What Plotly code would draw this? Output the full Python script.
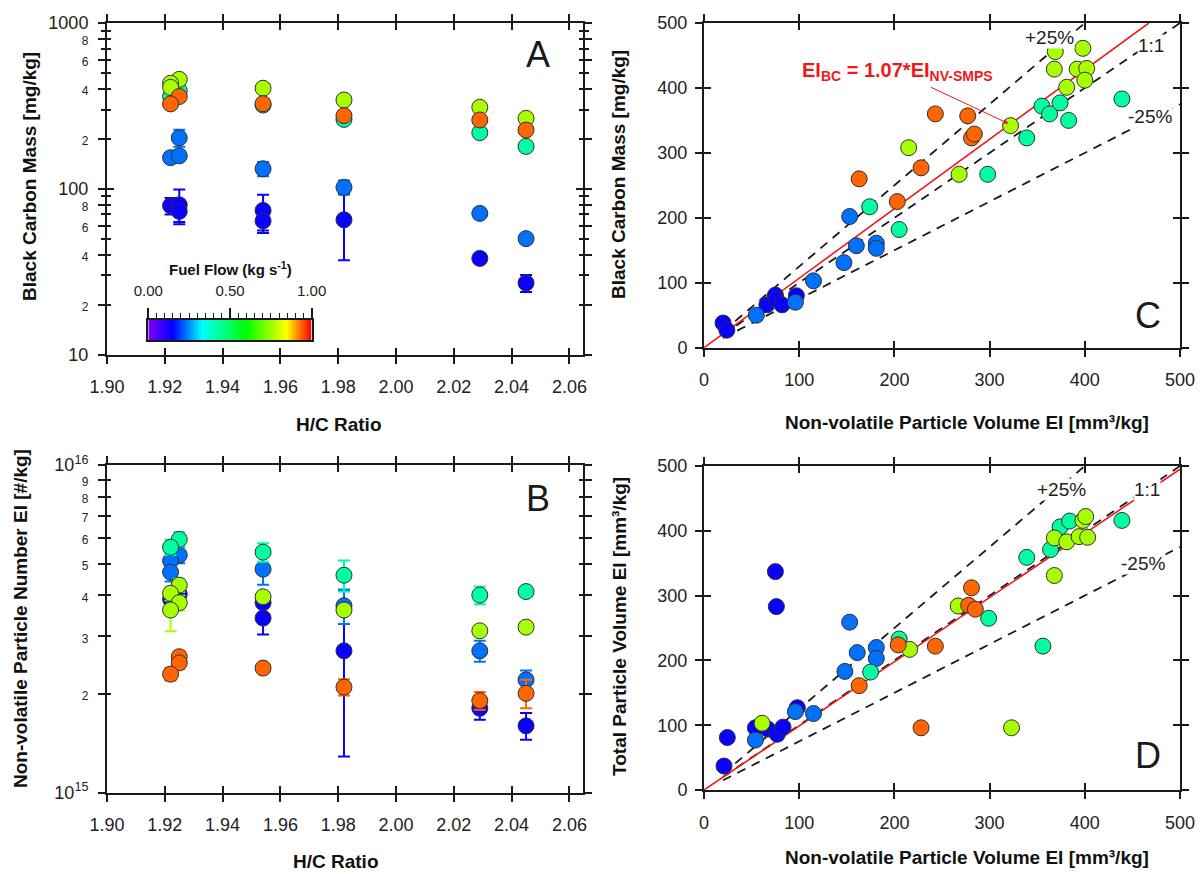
import plotly.graph_objects as go
from plotly.colors import sample_colorscale

W, H = 1200, 874
FONT = "Liberation Sans, Arial, Helvetica, sans-serif"
INK = "#1a1a1a"
TICK_INK = "#222222"

# Fuel-flow colour scale (kg s^-1), rainbow from purple to red
RAINBOW = [[0.0, "#8000ff"], [0.15, "#0000ff"], [0.33, "#00ffff"],
           [0.60, "#00ff00"], [0.85, "#ffff00"], [1.0, "#ff0000"]]

# ---------------- Panel A: black carbon mass EI vs H/C ratio ----------------
a_hc = [1.922, 1.925, 1.925, 1.954, 1.954, 1.982, 2.029, 2.045,
        1.925, 1.922, 1.925, 1.954, 1.982, 2.029, 2.045,
        1.925, 1.922, 1.954, 1.982, 2.029, 2.045,
        1.925, 1.922, 1.922, 1.954, 1.982, 2.029, 2.045,
        1.925, 1.922, 1.954, 1.982, 2.029, 2.045]
a_bc = [79, 80, 73, 74, 64, 65, 38, 27,
        203, 154, 158, 132, 102, 71, 50,
        390, 360, 320, 262, 218, 180,
        457, 433, 409, 404, 343, 310, 266,
        360, 325, 326, 276, 260, 226]
a_bc_err = [9, 19, 10, 18, 10, 28, 2.5, 3.2,
            24, 10, 6, 13, 10, 2, 1.5,
            0, 0, 0, 0, 0, 0,
            0, 0, 0, 0, 0, 0, 0,
            0, 0, 0, 0, 0, 0]
a_fuel = [0.14] * 8 + [0.23] * 7 + [0.43] * 6 + [0.765] * 7 + [0.94] * 6

# ---------------- Panel B: nvPM number EI vs H/C ratio ----------------
b_hc = [1.925, 1.922, 1.954, 1.954, 1.982, 2.029, 2.045,
        1.925, 1.922, 1.922, 1.954, 1.982, 2.029, 2.045,
        1.925, 1.922, 1.954, 1.982, 2.029, 2.045,
        1.925, 1.922, 1.925, 1.922, 1.954, 1.982, 2.029, 2.045,
        1.925, 1.925, 1.922, 1.954, 1.982, 2.029, 2.045]
b_num = [4.04e15, 3.89e15, 3.80e15, 3.41e15, 2.71e15, 1.81e15, 1.60e15,
         5.31e15, 5.10e15, 4.71e15, 4.81e15, 3.72e15, 2.71e15, 2.21e15,
         5.93e15, 5.61e15, 5.42e15, 4.61e15, 4.01e15, 4.11e15,
         4.30e15, 4.06e15, 3.80e15, 3.61e15, 3.96e15, 3.61e15, 3.12e15, 3.20e15,
         2.60e15, 2.49e15, 2.30e15, 2.40e15, 2.10e15, 1.91e15, 2.01e15]
b_num_err = [0.25e15, 0.30e15, 0.30e15, 0.37e15, 1.42e15, 0.14e15, 0.15e15,
             0.30e15, 0.30e15, 0.30e15, 0.50e15, 0.45e15, 0.20e15, 0.15e15,
             0.30e15, 0.30e15, 0.35e15, 0.50e15, 0.25e15, 0.10e15,
             0.20e15, 0.20e15, 0.20e15, 0.50e15, 0.10e15, 0.10e15, 0.05e15, 0.05e15,
             0.10e15, 0.10e15, 0.10e15, 0.05e15, 0.12e15, 0.12e15, 0.20e15]
b_fuel = [0.14] * 7 + [0.23] * 7 + [0.43] * 6 + [0.765] * 8 + [0.94] * 7

# ---------------- Panel C: BC mass EI vs non-volatile volume EI ----------------
c_nv_vol = [20, 24, 66, 75, 76, 82, 97,
            55, 96, 115, 147, 153, 160, 181, 181,
            174, 205, 298, 339, 355, 363, 374, 383, 439,
            215, 268, 322, 369, 368, 398, 392, 402, 400, 381,
            163, 203, 228, 243, 277, 281, 284]
c_bc = [38, 27, 66, 81, 74, 66, 80,
        50, 70, 103, 131, 202, 157, 161, 153,
        217, 182, 267, 323, 372, 360, 377, 350, 383,
        308, 267, 342, 456, 429, 461, 429, 430, 412, 401,
        260, 225, 277, 360, 357, 323, 329]
c_fuel = [0.14] * 7 + [0.23] * 8 + [0.43] * 9 + [0.765] * 10 + [0.94] * 7

# ---------------- Panel D: total volume EI vs non-volatile volume EI ----------------
d_nv_vol = [21, 24.5, 75, 76, 54, 67, 77, 83, 98,
            54, 96, 115, 148, 153, 161, 181, 181,
            175, 205, 299, 356, 339, 364, 374, 384, 439,
            61, 216, 267, 323, 368, 368, 381, 394, 403, 398, 401,
            163, 204, 243, 228, 281, 278, 285]
d_tot_vol = [37, 81, 337, 283, 96, 94, 86, 97, 127,
             77, 121, 118, 183, 259, 212, 220, 203,
             182, 233, 265, 222, 359, 371, 406, 415, 416,
             103, 217, 284, 96, 331, 389, 383, 391, 390, 416, 422,
             161, 224, 222, 96, 312, 285, 279]
d_fuel = [0.14] * 9 + [0.23] * 8 + [0.43] * 9 + [0.765] * 11 + [0.94] * 7

# Reference lines (+25 %, 1:1, -25 %) and fitted slopes
ref_slopes = [1.25, 1.0, 0.75]
ref_labels = ["+25%", "1:1", "-25%"]
fit_slope_c = 1.07
fit_slope_d = 0.99

hc_ticks = [1.90, 1.92, 1.94, 1.96, 1.98, 2.00, 2.02, 2.04, 2.06]
vol_ticks = [0, 100, 200, 300, 400, 500]
cb_ticks = [0.0, 0.5, 1.0]

# ---------------- page geometry (pixels) ----------------
def px_x(x0, x1):
    return [x0 / W, x1 / W]


def px_y(top, bottom):
    return [1 - bottom / H, 1 - top / H]


DOM_AB_X = px_x(107, 583)
DOM_CD_X = px_x(704, 1180)
DOM_A_Y = px_y(23, 354.5)
DOM_B_Y = px_y(465, 792.7)
DOM_C_Y = px_y(23, 347.7)
DOM_D_Y = px_y(466, 790)
DOM_CB_X = px_x(148.3, 311.7)
DOM_CB_Y = px_y(320, 340)

fig = go.Figure()


def add_fuel_groups(x, y, fuel, xa, ya, err=None):
    for f in sorted(set(fuel)):
        idx = [i for i, v in enumerate(fuel) if v == f]
        colour = sample_colorscale(RAINBOW, [f])[0]
        extra = {}
        if err is not None:
            extra["error_y"] = dict(type="data", array=[err[i] for i in idx],
                                    color=colour, thickness=2, width=6)
        fig.add_trace(go.Scatter(
            x=[x[i] for i in idx], y=[y[i] for i in idx], mode="markers",
            xaxis=xa, yaxis=ya, showlegend=False,
            marker=dict(size=16, color=[f] * len(idx), coloraxis="coloraxis",
                        line=dict(color="#303030", width=1)),
            **extra))


def add_reference_lines(xa, ya, fit):
    ax_max = vol_ticks[-1]
    start = 20
    for s in ref_slopes:
        x_end = min(ax_max, ax_max / s)
        fig.add_trace(go.Scatter(
            x=[start, x_end], y=[s * start, s * x_end], mode="lines",
            line=dict(color=INK, width=1.8, dash="9px,7px"),
            xaxis=xa, yaxis=ya, showlegend=False, hoverinfo="skip"))
    x_end = min(ax_max, ax_max / fit)
    fig.add_trace(go.Scatter(
        x=[0, x_end], y=[0, fit * x_end], mode="lines",
        line=dict(color="#ee1a1a", width=1.6),
        xaxis=xa, yaxis=ya, showlegend=False, hoverinfo="skip"))


# Scatter panels
add_fuel_groups(a_hc, a_bc, a_fuel, "x", "y", a_bc_err)
add_fuel_groups(b_hc, b_num, b_fuel, "x2", "y2", b_num_err)
add_reference_lines("x3", "y3", fit_slope_c)
add_fuel_groups(c_nv_vol, c_bc, c_fuel, "x3", "y3")
add_reference_lines("x4", "y4", fit_slope_d)
add_fuel_groups(d_nv_vol, d_tot_vol, d_fuel, "x4", "y4")

# Colour bar drawn as a gradient strip on its own small axes
n_cb = 256
cb_levels = [i / (n_cb - 1) for i in range(n_cb)]
cb_edges = [i / n_cb for i in range(n_cb + 1)]
fig.add_trace(go.Heatmap(z=[cb_levels], x=cb_edges, y=[0, 1],
                         coloraxis="coloraxis", xaxis="x5", yaxis="y5",
                         hoverinfo="skip"))

# Empty traces so the inner-tick overlay subplots exist
for k in (6, 7, 8, 9):
    fig.add_trace(go.Scatter(x=[None], y=[None], xaxis=f"x{k}", yaxis=f"y{k}",
                             showlegend=False, hoverinfo="skip"))


def main_axis(domain, anchor, **kw):
    d = dict(domain=domain, anchor=anchor, automargin=False, showline=True,
             linecolor=INK, linewidth=2,
             mirror="ticks", ticks="outside", ticklen=7, tickwidth=2, tickcolor=INK,
             showgrid=False, zeroline=False,
             tickfont=dict(family=FONT, size=18, color=TICK_INK))
    d.update(kw)
    return d


def inner_axis(over, anchor, **kw):
    d = dict(overlaying=over, anchor=anchor, automargin=False, showline=False,
             mirror="ticks", ticks="inside", ticklen=7, tickwidth=2, tickcolor=INK,
             showgrid=False, zeroline=False, showticklabels=False)
    d.update(kw)
    return d


def small(t):
    return f"<span style='font-size:12px'>{t}</span>"


# log tick layouts
bc_major = [10, 100, 1000]
bc_labelled = [10, 20, 40, 60, 80, 100, 200, 400, 600, 800, 1000]
bc_text = ["10", small("2"), small("4"), small("6"), small("8"),
           "100", small("2"), small("4"), small("6"), small("8"), "1000"]
bc_unlabelled = [30, 50, 70, 90, 300, 500, 700, 900]
bc_minor_all = [20, 30, 40, 50, 60, 70, 80, 90, 200, 300, 400, 500, 600, 700, 800, 900]

num_major = [1e15, 1e16]
num_labelled = [1e15, 2e15, 3e15, 4e15, 5e15, 6e15, 7e15, 8e15, 9e15, 1e16]
num_text = ["10<sup>15</sup>"] + [small(str(k)) for k in range(2, 10)] + ["10<sup>16</sup>"]
num_minor_all = [k * 1e15 for k in range(2, 10)]

hc_text = [f"{v:.2f}" for v in hc_ticks]
hc_range = [1.90, 1.90 + (583 - 107) / 2890]

minor_out = dict(ticks="outside", ticklen=4, tickwidth=1.5, tickcolor=INK)
minor_in = dict(ticks="inside", ticklen=4, tickwidth=1.5, tickcolor=INK)

fig.update_layout(
    template="none",
    width=W, height=H, margin=dict(l=0, r=0, t=0, b=0, pad=0, autoexpand=False),
    paper_bgcolor="white", plot_bgcolor="rgba(0,0,0,0)",
    font=dict(family=FONT, color=INK),
    coloraxis=dict(colorscale=RAINBOW, cmin=0, cmax=1, showscale=False),
    # Panel A
    xaxis=main_axis(DOM_AB_X, "y", range=hc_range, tickmode="array",
                    tickvals=hc_ticks, ticktext=hc_text, ticklabelstandoff=8),
    yaxis=main_axis(DOM_A_Y, "x", type="log", range=[1, 3], tickmode="array",
                    tickvals=bc_labelled, ticktext=bc_text, ticklabelstandoff=6,
                    minor=dict(tickvals=bc_unlabelled, **minor_out)),
    # Panel B
    xaxis2=main_axis(DOM_AB_X, "y2", range=hc_range, tickmode="array",
                     tickvals=hc_ticks, ticktext=hc_text, ticklabelstandoff=8),
    yaxis2=main_axis(DOM_B_Y, "x2", type="log", range=[15, 16], tickmode="array",
                     tickvals=num_labelled, ticktext=num_text, ticklabelstandoff=6),
    # Panel C
    xaxis3=main_axis(DOM_CD_X, "y3", range=[0, 500], tickmode="array",
                     tickvals=vol_ticks, ticklabelstandoff=8),
    yaxis3=main_axis(DOM_C_Y, "x3", range=[0, 500], tickmode="array",
                     tickvals=vol_ticks, ticklabelstandoff=4),
    # Panel D
    xaxis4=main_axis(DOM_CD_X, "y4", range=[0, 500], tickmode="array",
                     tickvals=vol_ticks, ticklabelstandoff=8),
    yaxis4=main_axis(DOM_D_Y, "x4", range=[0, 500], tickmode="array",
                     tickvals=vol_ticks, ticklabelstandoff=4),
    # Colour bar strip
    xaxis5=dict(domain=DOM_CB_X, anchor="y5", range=[0, 1], side="top", automargin=False,
                showline=True, linecolor=INK, linewidth=2, mirror=True,
                ticks="outside", ticklen=10, tickwidth=1.5, tickcolor=INK,
                tickmode="array", tickvals=cb_ticks,
                ticktext=[f"{v:.2f}" for v in cb_ticks], ticklabelstandoff=6,
                tickfont=dict(family=FONT, size=15, color=TICK_INK),
                minor=dict(dtick=0.05, tick0=0, ticks="outside", ticklen=5,
                           tickwidth=1.2, tickcolor=INK),
                showgrid=False, zeroline=False, fixedrange=True),
    yaxis5=dict(domain=DOM_CB_Y, anchor="x5", range=[0, 1], showline=True, automargin=False,
                linecolor=INK, linewidth=2, mirror=True, ticks="",
                showticklabels=False, showgrid=False, zeroline=False, fixedrange=True),
    # Inner halves of the crossing ticks
    xaxis6=inner_axis("x", "y6", range=hc_range, tickmode="array", tickvals=hc_ticks),
    yaxis6=inner_axis("y", "x6", type="log", range=[1, 3], tickmode="array",
                      tickvals=bc_major, minor=dict(tickvals=bc_minor_all, **minor_in)),
    xaxis7=inner_axis("x2", "y7", range=hc_range, tickmode="array", tickvals=hc_ticks),
    yaxis7=inner_axis("y2", "x7", type="log", range=[15, 16], tickmode="array",
                      tickvals=num_major, minor=dict(tickvals=num_minor_all, **minor_in)),
    xaxis8=inner_axis("x3", "y8", range=[0, 500], tickmode="array", tickvals=vol_ticks),
    yaxis8=inner_axis("y3", "x8", range=[0, 500], tickmode="array", tickvals=vol_ticks),
    xaxis9=inner_axis("x4", "y9", range=[0, 500], tickmode="array", tickvals=vol_ticks),
    yaxis9=inner_axis("y4", "x9", range=[0, 500], tickmode="array", tickvals=vol_ticks),
)

ann = []


def title(text, x_px, y_px, angle=0, size=19):
    ann.append(dict(text=f"<b>{text}</b>", x=x_px / W, y=1 - y_px / H, xref="paper",
                    yref="paper", showarrow=False, textangle=angle,
                    font=dict(family=FONT, size=size, color="#111111"),
                    xanchor="center", yanchor="middle"))


title("Black Carbon Mass [mg/kg]", 30, 177, -90)
title("Non-volatile Particle Number EI [#/kg]", 20, 619, -90)
title("Black Carbon Mass [mg/kg]", 619, 175, -90)
title("Total Particle Volume EI [mm³/kg]", 619, 627, -90)
title("H/C Ratio", 339, 424)
title("H/C Ratio", 336, 861)
title("Non-volatile Particle Volume EI [mm³/kg]", 967, 422)
title("Non-volatile Particle Volume EI [mm³/kg]", 967, 857)
title("Fuel Flow (kg s<sup>-1</sup>)", 230, 268, size=15)

# Panel letters
for letter, xa, ya, fx, fy in (("A", "x", "y", 0.905, 0.905), ("B", "x2", "y2", 0.905, 0.898),
                               ("C", "x3", "y3", 0.933, 0.10), ("D", "x4", "y4", 0.933, 0.105)):
    ann.append(dict(text=letter, x=fx, y=fy, xref=f"{xa} domain", yref=f"{ya} domain",
                    showarrow=False, font=dict(family=FONT, size=36, color=INK),
                    xanchor="center", yanchor="middle"))

# Reference-line labels
label_pos_c = [(363, 478), (470, 466), (468, 356)]
label_pos_d = [(375, 464), (465, 464), (461, 350)]
for xa, ya, positions in (("x3", "y3", label_pos_c), ("x4", "y4", label_pos_d)):
    for text, (lx, ly) in zip(ref_labels, positions):
        ann.append(dict(text=text, x=lx, y=ly, xref=xa, yref=ya, showarrow=False,
                        bgcolor="white", borderpad=0,
                        font=dict(family=FONT, size=19, color="#222222")))

# Fit equation with arrow to the red line
ann.append(dict(text=f"<b>EI<sub>BC</sub> = {fit_slope_c:.2f}*EI<sub>NV-SMPS</sub></b>",
                x=203, y=425, xref="x3", yref="y3", showarrow=False,
                font=dict(family=FONT, size=20, color="#ee1a1a")))
ann.append(dict(text="", x=320, y=345, xref="x3", yref="y3",
                ax=237, ay=402, axref="x3", ayref="y3", showarrow=True,
                arrowhead=2, arrowsize=1, arrowwidth=1, arrowcolor="#ee1a1a"))

fig.update_layout(annotations=ann)

fig.write_html("out.html")
